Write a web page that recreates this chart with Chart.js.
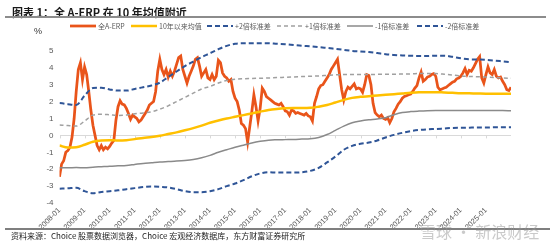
<!DOCTYPE html>
<html><head><meta charset="utf-8">
<script src="https://cdn.jsdelivr.net/npm/chart.js@4/dist/chart.umd.min.js"></script>
<style>
html,body{margin:0;padding:0;background:#fff;width:550px;height:243px;overflow:hidden;}
#wrap{position:relative;width:550px;height:243px;}
canvas{position:absolute;left:0;top:0;}
.t{position:absolute;white-space:nowrap;line-height:1;}
</style></head><body>
<div id="wrap">
<canvas id="c" width="550" height="243"></canvas>
<div class="t" style="left:12px;top:4px;font:bold 11px 'Noto Sans CJK SC';color:#1a1a1a;">图表 1：全 A-ERP 在 10 年均值附近</div>
<div style="position:absolute;left:5px;top:16px;width:541px;height:2px;background:#8c8c8c;"></div>
<div class="t" style="left:34px;top:25.5px;font:9px 'Liberation Sans';color:#333;">%</div>
<div style="position:absolute;left:5px;top:228px;width:545px;height:1.5px;background:#7f7f7f;"></div>
<div class="t" style="left:11px;top:229.5px;font:8px 'Noto Sans CJK SC';color:#222;">资料来源：Choice 股票数据浏览器，Choice 宏观经济数据库，东方财富证券研究所</div>
<div class="t" style="left:420px;top:219px;font:16px 'Noto Sans CJK SC';color:rgba(150,150,150,0.5);">雪球 · 新浪财经</div>
</div>
<script>
// ---- data ----
const xTickLabels = ['2008-01','2009-01','2010-01','2011-01','2012-01','2013-01','2014-01','2015-01','2016-01','2017-01','2018-01','2019-01','2020-01','2021-01','2022-01','2023-01','2024-01','2025-01'];
// monthly, starting 2008-01
const erpValues = [
-2.45,-1.7,-1.5,-1.0,-0.9,-0.7,-0.1,1.0,2.6,3.9,4.3,3.3,
4.05,3.6,2.6,1.5,0.6,0.0,-0.6,-0.85,-0.6,-0.85,-0.7,-0.8,
-0.65,-0.45,-0.3,0.9,1.7,2.05,1.85,1.8,1.6,1.3,0.95,1.2,
1.1,1.0,0.8,0.9,1.1,1.3,1.5,1.8,1.9,2.0,2.6,3.8,
4.5,3.9,3.6,3.9,3.45,3.8,3.5,3.8,4.2,4.6,4.7,3.9,
3.5,3.1,3.5,3.8,4.1,4.5,4.6,4.1,3.5,3.7,3.9,3.4,
3.3,3.6,3.3,3.5,4.45,4.3,3.7,3.5,3.4,3.2,3.3,2.6,
2.2,2.0,1.5,0.7,0.6,0.4,-0.4,0.5,1.4,2.4,1.7,0.85,
1.6,2.8,2.6,2.3,2.2,2.1,2.0,1.9,1.85,1.8,1.9,1.7,
1.45,1.4,1.2,1.5,1.45,1.3,1.35,1.3,1.25,1.2,1.3,1.15,
1.1,0.85,1.9,2.3,2.75,2.95,3.0,3.2,3.4,3.6,3.9,4.1,
4.3,4.5,3.6,2.7,2.1,2.6,2.85,2.75,2.9,3.05,2.75,2.8,
2.75,2.55,3.0,3.6,3.55,3.0,1.9,1.35,1.2,1.1,1.2,1.0,
0.95,1.05,0.75,1.0,1.4,1.6,1.85,2.0,2.2,2.3,2.35,2.4,
2.45,2.6,2.8,2.95,3.4,3.75,3.2,3.3,3.45,3.5,3.6,3.65,
3.5,2.85,2.7,2.75,2.8,2.85,2.95,3.05,3.15,3.2,3.35,3.4,
3.5,3.7,3.95,3.6,3.85,3.8,4.0,4.25,4.5,4.66,3.4,3.1,
3.6,4.05,3.7,3.6,3.9,3.5,3.4,3.45,3.2,3.0,2.7,2.65,
2.85];
// band sample months (months since 2008-01)
const bandMonths = [0,4,8,12,16,20,24,28,32,36,40,44,48,52,56,60,64,68,72,76,80,84,88,92,96,100,104,108,112,116,120,124,128,132,136,140,144,148,152,156,160,164,168,172,176,180,184,188,192,196,200,204,208,212,216];
const meanValues = [-0.6,-0.72,-0.7,-0.55,-0.38,-0.3,-0.28,-0.3,-0.28,-0.22,-0.15,-0.1,-0.02,0.08,0.18,0.3,0.43,0.58,0.75,0.88,1.0,1.1,1.2,1.3,1.4,1.5,1.56,1.6,1.62,1.62,1.63,1.7,1.8,1.95,2.1,2.22,2.28,2.32,2.36,2.4,2.44,2.48,2.52,2.55,2.56,2.56,2.54,2.52,2.5,2.49,2.48,2.47,2.47,2.46,2.46];
const plus2Values = [1.92,1.85,1.80,2.35,2.8,2.82,2.72,2.65,2.65,2.75,2.85,2.95,3.12,3.45,3.78,4.1,4.37,4.63,4.86,5.1,5.3,5.42,5.45,5.45,5.45,5.45,5.42,5.4,5.35,5.3,5.27,5.22,5.18,5.12,5.06,5.0,4.97,4.93,4.87,4.8,4.76,4.73,4.71,4.7,4.7,4.72,4.72,4.65,4.56,4.5,4.49,4.47,4.43,4.38,4.33];
const plus1Values = [0.62,0.58,0.55,0.85,1.2,1.25,1.22,1.18,1.2,1.28,1.33,1.4,1.55,1.75,2.0,2.25,2.5,2.75,2.9,3.1,3.25,3.32,3.35,3.37,3.38,3.4,3.42,3.44,3.46,3.48,3.5,3.52,3.55,3.58,3.6,3.6,3.6,3.6,3.61,3.62,3.62,3.63,3.64,3.66,3.67,3.66,3.62,3.57,3.52,3.49,3.47,3.45,3.43,3.4,3.38];
const minus1Values = [-1.92,-1.92,-1.9,-1.92,-1.88,-1.85,-1.82,-1.8,-1.78,-1.72,-1.66,-1.62,-1.58,-1.55,-1.52,-1.48,-1.42,-1.32,-1.18,-1.0,-0.85,-0.7,-0.58,-0.45,-0.35,-0.28,-0.26,-0.25,-0.24,-0.22,-0.2,-0.12,0.05,0.3,0.55,0.75,0.85,0.92,0.97,1.05,1.22,1.35,1.41,1.44,1.46,1.47,1.47,1.48,1.48,1.48,1.47,1.47,1.47,1.47,1.46];
const minus2Values = [-3.15,-3.13,-3.1,-3.3,-3.42,-3.35,-3.3,-3.25,-3.18,-3.12,-3.06,-3.03,-3.04,-3.08,-3.18,-3.3,-3.36,-3.36,-3.3,-3.18,-3.0,-2.85,-2.65,-2.42,-2.25,-2.18,-2.2,-2.2,-2.2,-2.18,-2.1,-1.92,-1.6,-1.25,-0.85,-0.62,-0.5,-0.42,-0.3,-0.12,0.03,0.15,0.25,0.32,0.36,0.38,0.41,0.44,0.45,0.46,0.47,0.47,0.48,0.48,0.48];
const seriesNames = ['全A-ERP','10年以来均值','+2倍标准差','+1倍标准差','-1倍标准差','-2倍标准差'];
const yTickMin = -4, yTickMax = 6;

// ---- build ----
const pts = (xs, ys) => ys.map((y, i) => ({x: xs[i], y}));
const erpPts = erpValues.map((y, i) => ({x: i, y}));
const legendStarts = [70, 131, 207, 277, 347, 417];

const legendPlugin = {
  id: 'customLegend',
  afterDraw(chart) {
    const ctx = chart.ctx;
    ctx.save();
    const y = 26;
    chart.data.datasets.forEach((ds, i) => {
      const x0 = legendStarts[i];
      ctx.beginPath();
      ctx.setLineDash(ds.borderDash || []);
      ctx.strokeStyle = ds.borderColor;
      ctx.lineWidth = ds.borderWidth;
      ctx.moveTo(x0, y); ctx.lineTo(x0 + 26, y); ctx.stroke();
      ctx.setLineDash([]);
      ctx.fillStyle = '#595959';
      ctx.font = "7px 'Noto Sans CJK SC'";
      ctx.textBaseline = 'middle';
      ctx.textAlign = 'left';
      ctx.fillText(ds.label, x0 + 28, y + 0.5);
    });
    ctx.restore();
  }
};

// small tick marks on the zero axis line at each year
const zeroTicksPlugin = {
  id: 'zeroTicks',
  beforeDatasetsDraw(chart) {
    const {ctx, scales: {x, y}} = chart;
    const y0 = y.getPixelForValue(0);
    ctx.save();
    ctx.strokeStyle = '#D9D9D9';
    ctx.lineWidth = 1;
    x.ticks.forEach(t => {
      const px = Math.round(x.getPixelForValue(t.value)) + 0.5;
      ctx.beginPath(); ctx.moveTo(px, y0); ctx.lineTo(px, y0 + 3); ctx.stroke();
    });
    ctx.restore();
  }
};

const blue = '#2F5597';
new Chart(document.getElementById('c'), {
  type: 'line',
  data: {
    datasets: [
      {label: seriesNames[0], data: erpPts, borderColor: '#E9541A', borderWidth: 2.75, pointRadius: 0, tension: 0, order: 9},
      {label: seriesNames[1], data: pts(bandMonths, meanValues), borderColor: '#FFC000', borderWidth: 2.5, pointRadius: 0, cubicInterpolationMode: 'monotone', order: 1},
      {label: seriesNames[2], data: pts(bandMonths, plus2Values), borderColor: blue, borderWidth: 2, borderDash: [5, 3], pointRadius: 0, cubicInterpolationMode: 'monotone', order: 2},
      {label: seriesNames[3], data: pts(bandMonths, plus1Values), borderColor: '#A0A0A0', borderWidth: 1.5, borderDash: [4, 3], pointRadius: 0, cubicInterpolationMode: 'monotone', order: 3},
      {label: seriesNames[4], data: pts(bandMonths, minus1Values), borderColor: '#8A8A8A', borderWidth: 1.5, pointRadius: 0, cubicInterpolationMode: 'monotone', order: 4},
      {label: seriesNames[5], data: pts(bandMonths, minus2Values), borderColor: blue, borderWidth: 2, borderDash: [5, 3], pointRadius: 0, cubicInterpolationMode: 'monotone', order: 5}
    ]
  },
  options: {
    responsive: false,
    animation: false,
    devicePixelRatio: 1,
    layout: {padding: {left: 0, right: 39, top: 34, bottom: 0}},
    plugins: {legend: {display: false}, tooltip: {enabled: false}},
    scales: {
      x: {
        type: 'linear', min: 0, max: 216,
        border: {display: false},
        grid: {display: false, drawTicks: false},
        afterFit: s => { s.height = 40; },
        afterBuildTicks: s => { s.ticks = xTickLabels.map((_, i) => ({value: i * 12})); },
        ticks: {
          autoSkip: false, minRotation: 45, maxRotation: 45, padding: 3,
          color: '#595959', font: {family: 'Liberation Sans', size: 7.5},
          callback: v => xTickLabels[v / 12] || ''
        }
      },
      y: {
        min: yTickMin, max: yTickMax,
        border: {display: false},
        grid: {drawTicks: false, color: c => c.tick && c.tick.value === 0 ? '#D9D9D9' : 'rgba(0,0,0,0)', lineWidth: 1},
        afterFit: s => { s.width = 59.5; },
        ticks: {stepSize: 1, padding: 6, color: '#595959', font: {family: 'Liberation Sans', size: 8},
          callback: v => v === yTickMax ? '' : v}
      }
    }
  },
  plugins: [legendPlugin, zeroTicksPlugin]
});
</script>
</body></html>
